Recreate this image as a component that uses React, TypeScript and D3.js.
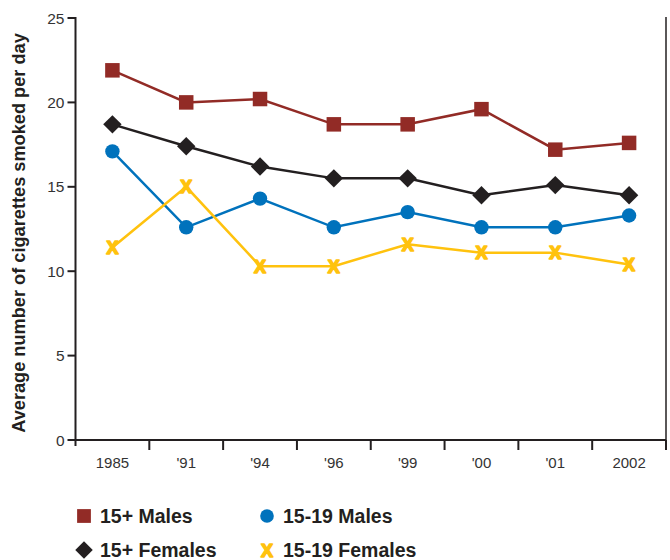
import React from "react";
import * as d3 from "d3";

const categories = ["1985", "'91", "'94", "'96", "'99", "'00", "'01", "2002"];
const males15plus = [21.9, 20.0, 20.2, 18.7, 18.7, 19.6, 17.2, 17.6];
const females15plus = [18.7, 17.4, 16.2, 15.5, 15.5, 14.5, 15.1, 14.5];
const males1519 = [17.1, 12.6, 14.3, 12.6, 13.5, 12.6, 12.6, 13.3];
const females1519 = [11.4, 15.0, 10.3, 10.3, 11.6, 11.1, 11.1, 10.4];
const yTicks = [0, 5, 10, 15, 20, 25];

const RED = "#922B26";
const BLACK = "#231F20";
const BLUE = "#0072BC";
const YELLOW = "#FFC20E";
const FONT = "'Liberation Sans', Arial, sans-serif";

type Marker = "square" | "diamond" | "circle" | "x";

function MarkerShape({ type, x, y, color, size = 1 }: { type: Marker; x: number; y: number; color: string; size?: number }) {
  if (type === "square") {
    const s = 14.5 * size;
    return <rect x={x - s / 2} y={y - s / 2} width={s} height={s} fill={color} />;
  }
  if (type === "diamond") {
    const r = 9.2 * size;
    return <path d={`M${x},${y - r}L${x + r},${y}L${x},${y + r}L${x - r},${y}Z`} fill={color} />;
  }
  if (type === "circle") {
    return <circle cx={x} cy={y} r={7.2 * size} fill={color} />;
  }
  return (
    <text
      x={x}
      y={y + 6.5 * size}
      textAnchor="middle"
      fontFamily={FONT}
      fontWeight="bold"
      fontSize={18 * size}
      fill={color}
      stroke={color}
      strokeWidth={1.6}
      strokeLinejoin="round"
    >
      X
    </text>
  );
}

export default function App() {
  const W = 670, H = 560;
  const left = 75.5, right = 666, top = 18, bottom = 440;
  const x = d3.scaleBand<string>().domain(categories).range([left, right]).paddingInner(0).paddingOuter(0);
  const y = d3.scaleLinear().domain([0, 25]).range([bottom, top]);
  const cx = (c: string) => (x(c) as number) + x.bandwidth() / 2;

  const series: { name: string; values: number[]; color: string; marker: Marker }[] = [
    { name: "15+ Males", values: males15plus, color: RED, marker: "square" },
    { name: "15+ Females", values: females15plus, color: BLACK, marker: "diamond" },
    { name: "15-19 Males", values: males1519, color: BLUE, marker: "circle" },
    { name: "15-19 Females", values: females1519, color: YELLOW, marker: "x" },
  ];
  const line = d3.line<number>().x((_, i) => cx(categories[i])).y((v) => y(v));

  const boundaries = categories.map((c) => x(c) as number).concat([right]).slice(1);

  const legend = [
    { s: series[0], lx: 84, ly: 516 },
    { s: series[2], lx: 267, ly: 516 },
    { s: series[1], lx: 84, ly: 550 },
    { s: series[3], lx: 267, ly: 550 },
  ];

  return (
    <svg width={W} height={H} style={{ position: "absolute", left: 0, top: 0, background: "#fff" }}>
      {/* right frame line */}
      <line x1={right} x2={right} y1={top - 1} y2={bottom + 10} stroke={BLACK} strokeWidth={1.5} />
      {/* y axis */}
      <line x1={left} x2={left} y1={top - 1} y2={bottom + 6} stroke={BLACK} strokeWidth={2} />
      {yTicks.map((t) => (
        <g key={t}>
          <line x1={left - 8} x2={left} y1={y(t)} y2={y(t)} stroke={BLACK} strokeWidth={2} />
          <text x={left - 11} y={y(t) + 5.5} textAnchor="end" fontFamily={FONT} fontSize={15.5} fill="#333">
            {t}
          </text>
        </g>
      ))}
      {/* x axis */}
      <line x1={left - 1} x2={right} y1={bottom} y2={bottom} stroke={BLACK} strokeWidth={2} />
      {boundaries.map((b, i) => (
        <line key={i} x1={b} x2={b} y1={bottom} y2={bottom + 10} stroke={BLACK} strokeWidth={2} />
      ))}
      {categories.map((c) => (
        <text key={c} x={cx(c)} y={bottom + 28} textAnchor="middle" fontFamily={FONT} fontSize={15} fill="#333">
          {c}
        </text>
      ))}
      <text
        transform={`translate(25,${(top + bottom) / 2 + 4}) rotate(-90)`}
        textAnchor="middle"
        fontFamily={FONT}
        fontWeight="bold"
        fontSize={18.2}
        fill={BLACK}
      >
        Average number of cigarettes smoked per day
      </text>
      {series.map((s) => (
        <g key={s.name}>
          <path d={line(s.values) || ""} fill="none" stroke={s.color} strokeWidth={2.5} />
          {s.values.map((v, i) => (
            <MarkerShape key={i} type={s.marker} x={cx(categories[i])} y={y(v)} color={s.color} />
          ))}
        </g>
      ))}
      {legend.map(({ s, lx, ly }) => (
        <g key={s.name}>
          <MarkerShape type={s.marker} x={lx} y={ly} color={s.color} size={s.marker === "x" ? 1 : 0.95} />
          <text x={lx + 16} y={ly + 7} fontFamily={FONT} fontWeight="bold" fontSize={19.5} fill={BLACK}>
            {s.name}
          </text>
        </g>
      ))}
    </svg>
  );
}
